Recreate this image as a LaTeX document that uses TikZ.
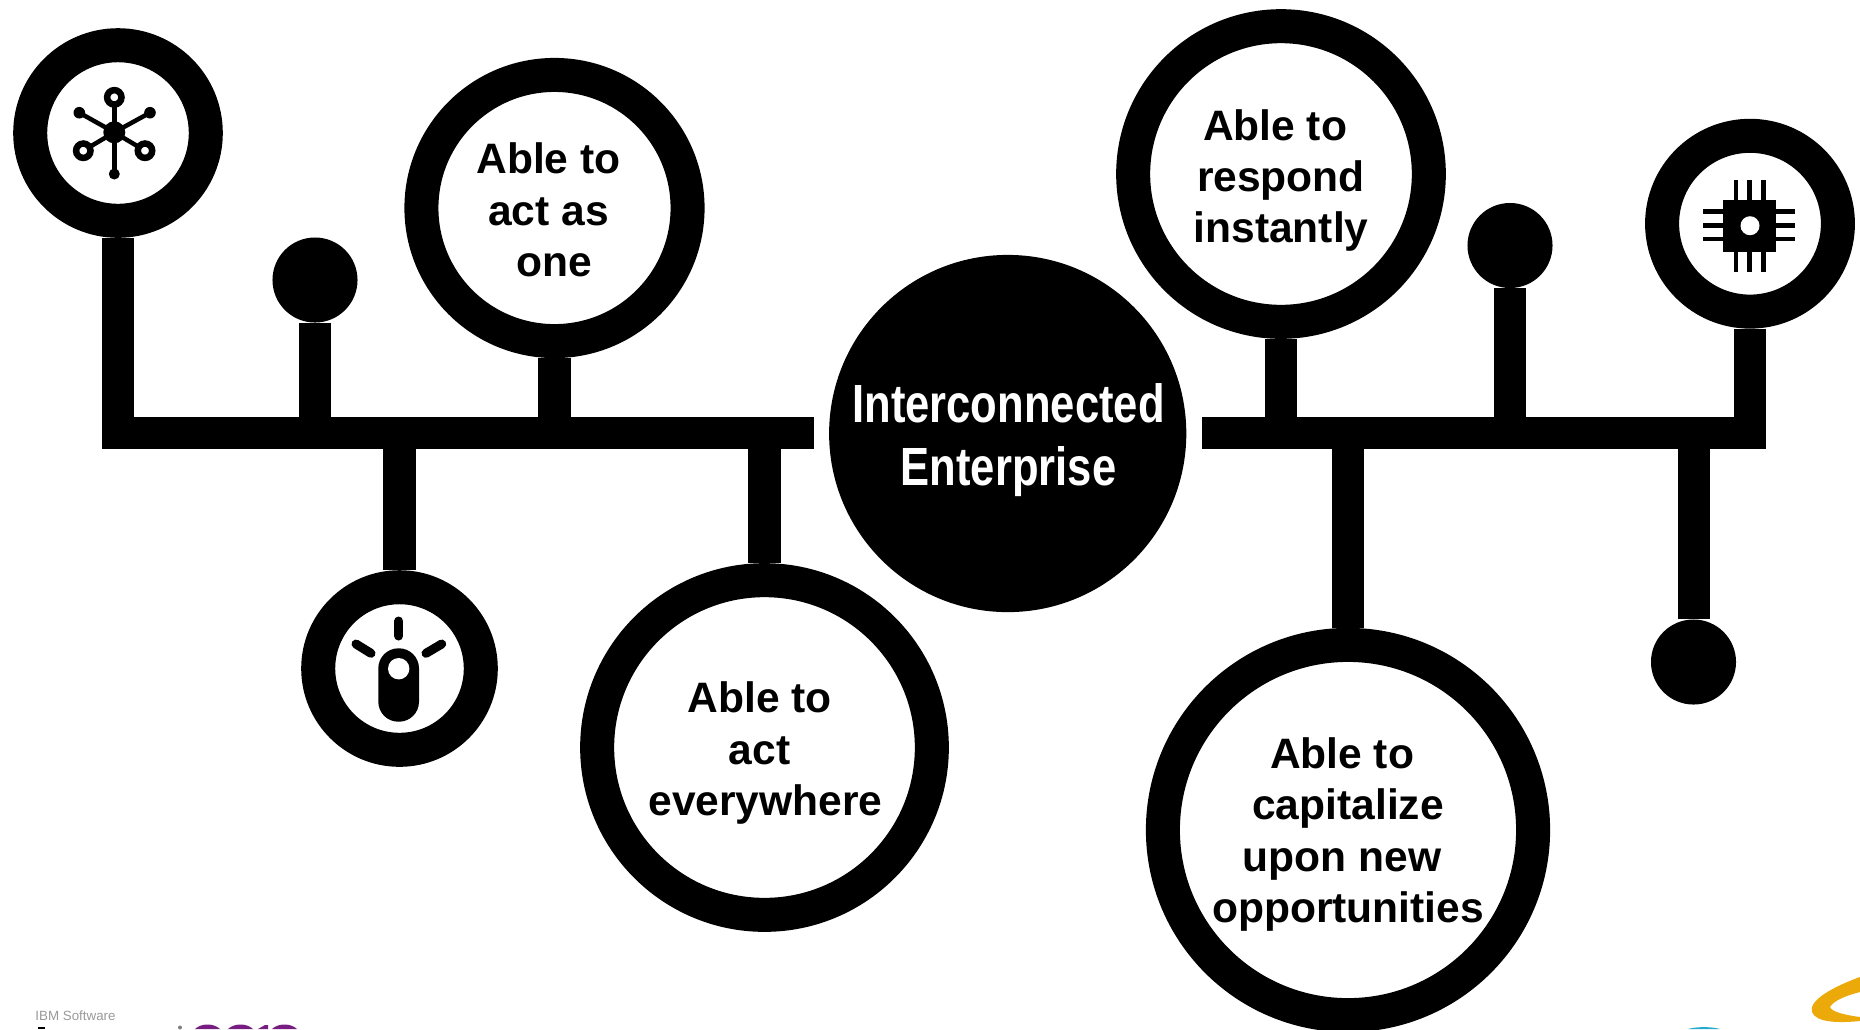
\documentclass[tikz,border=0pt]{standalone}
\usepackage{fontspec}
\setmainfont{Liberation Sans}
\definecolor{logopurple}{RGB}{120,30,130}
\definecolor{logocyan}{RGB}{40,170,205}
\definecolor{logogold}{RGB}{235,170,10}
\begin{document}
\begin{tikzpicture}[x=.01cm,y=-.01cm,
        ring/.style={circle,draw=black,fill=white,line width=.34cm,inner sep=0pt},
        dot/.style={circle,fill=black,minimum size=.85cm,inner sep=0pt,outer sep=0pt},
        bar/.style={draw=black,line width=.32cm},
        lbl/.style={align=center,font=\bfseries\fontsize{12.1}{14.6}\selectfont},
        icon/.style={line width=.045cm,line cap=round}]
\useasboundingbox (0,0) rectangle (1860,1029);
\clip (0,0) rectangle (1860,1029);

\coordinate (trunkL) at (814,433.3);
\coordinate (trunkR) at (1202,433.3);

\node[ring,minimum size=1.755cm] (net) at (118,133) {};
\node[ring,minimum size=2.66cm] (one) at (554.5,208) {};
\node[ring,minimum size=1.625cm] (bulb) at (399.5,668.5) {};
\node[ring,minimum size=3.345cm] (where) at (764.5,747.5) {};
\node[ring,minimum size=2.955cm] (resp) at (1281,174) {};
\node[ring,minimum size=3.7cm] (opp) at (1348,830) {};
\node[ring,minimum size=1.757cm] (chip) at (1750,223.7) {};
\node[dot] (dotA) at (315,280) {};
\node[dot] (dotB) at (1510,245.5) {};
\node[dot] (dotC) at (1693.5,662) {};
\node[circle,fill=black,minimum size=3.57cm,inner sep=0pt,outer sep=0pt] (hub) at (1007.7,433.5) {};

\draw[bar] (net.south) |- (trunkL);
\draw[bar] (dotA.south) -- (dotA |- trunkL);
\draw[bar] (one.south) -- (one |- trunkL);
\draw[bar] (bulb.north) -- (bulb |- trunkL);
\draw[bar] (where.north) -- (where |- trunkL);
\draw[bar] (chip.south) |- (trunkR);
\draw[bar] (resp.south) -- (resp |- trunkR);
\draw[bar] (dotB.south) -- (dotB |- trunkR);
\draw[bar] (opp.north) -- (opp |- trunkR);
\draw[bar] (dotC.north) -- (dotC |- trunkR);

\node[lbl] (oneT) at (548.5,210) {Able to\\act as\\\hspace*{.278em}one};
\node[lbl] (whereT) at (765.5,753) {Able to\rule{.278em}{0pt}\\act\rule{.278em}{0pt}\\everywhere};
\node[lbl] (respT) at (1281,180.5) {Able to\rule{.278em}{0pt}\\respond\\instantly};
\node[lbl] (oppT) at (1348,834.5) {Able to\rule{.278em}{0pt}\\capitalize\\upon new\rule{.278em}{0pt}\\opportunities};
\node[align=center,text=white,font=\bfseries\fontsize{15.3}{17.8}\selectfont,xscale=.81,transform shape] (hubT) at (1008.5,440) {Interconnected\\Enterprise};

% network icon
\coordinate (netC) at (114.3,132.3);
\foreach \p in {(114.3,97.3),(114.3,174)}
    \draw[line width=.05cm] (netC) -- \p;
\foreach \p in {(79.3,112.7),(150,112.7),(83.3,150.7),(145,150.7)}
    \draw[line width=.045cm] (netC) -- \p;
\fill (netC) circle (11);
\fill (79.3,112.7) circle (5.8);
\fill (150,112.7) circle (5.8);
\fill (114.3,174) circle (5.5);
\draw[line width=.065cm,fill=white] (114.3,97.3) circle (7.2);
\draw[line width=.065cm,fill=white] (83.3,150.7) circle (7.2);
\draw[line width=.065cm,fill=white] (145,150.7) circle (7.2);

% bulb icon
\draw[icon,line width=.09cm] (398.7,621) -- (398.7,636);
\draw[icon,line width=.09cm] (356,644) -- (371,653.3);
\draw[icon,line width=.09cm] (441.7,644) -- (426,653.3);
\fill[rounded corners=.2cm] (378.3,648.3) rectangle (419,721.7);
\fill[white] (398.7,668.7) circle (10.7);

% chip icon
\foreach \x in {1736,1749.3,1763.3}
    \draw[icon,line cap=butt] (\x,180) -- (\x,271.7);
\foreach \y in {211.7,225.7,239}
    \draw[icon,line cap=butt] (1703.3,\y) -- (1795,\y);
\fill (1723.3,200) rectangle (1775.7,251.7);
\fill[white] (1750,225.7) circle (9.5);

% logos cut off by the page edge
\node[text=black!40,font=\fontsize{3.8}{5}\selectfont,inner sep=0pt] (ibmT) at (75.5,1016) {IBM Software};
\fill (38,1027) rectangle (45,1029);
\fill[black!50] (180,1027.5) circle (2);
\fill[logopurple] (195,1029) .. controls (201,1023) and (214,1023) .. (220,1029);
\fill[logopurple] (228,1029) .. controls (234,1023) and (247,1023) .. (253,1029);
\fill[logopurple] (258,1029) -- (265,1025) -- (268,1025) -- (268,1029) -- cycle;
\fill[logopurple] (272,1029) .. controls (278,1023) and (291,1023) .. (297,1029);
\fill[logocyan] (1688,1029) .. controls (1696,1026.5) and (1712,1026.5) .. (1720,1029);
\fill[logogold] (1860,977) .. controls (1835,986) and (1808,1000) .. (1812,1012)
    .. controls (1816,1023) and (1840,1023) .. (1860,1021)
    -- (1860,1017) .. controls (1845,1015) and (1832,1012) .. (1830,1007)
    .. controls (1834,1000) and (1848,995) .. (1860,992) -- cycle;
\end{tikzpicture}
\end{document}
